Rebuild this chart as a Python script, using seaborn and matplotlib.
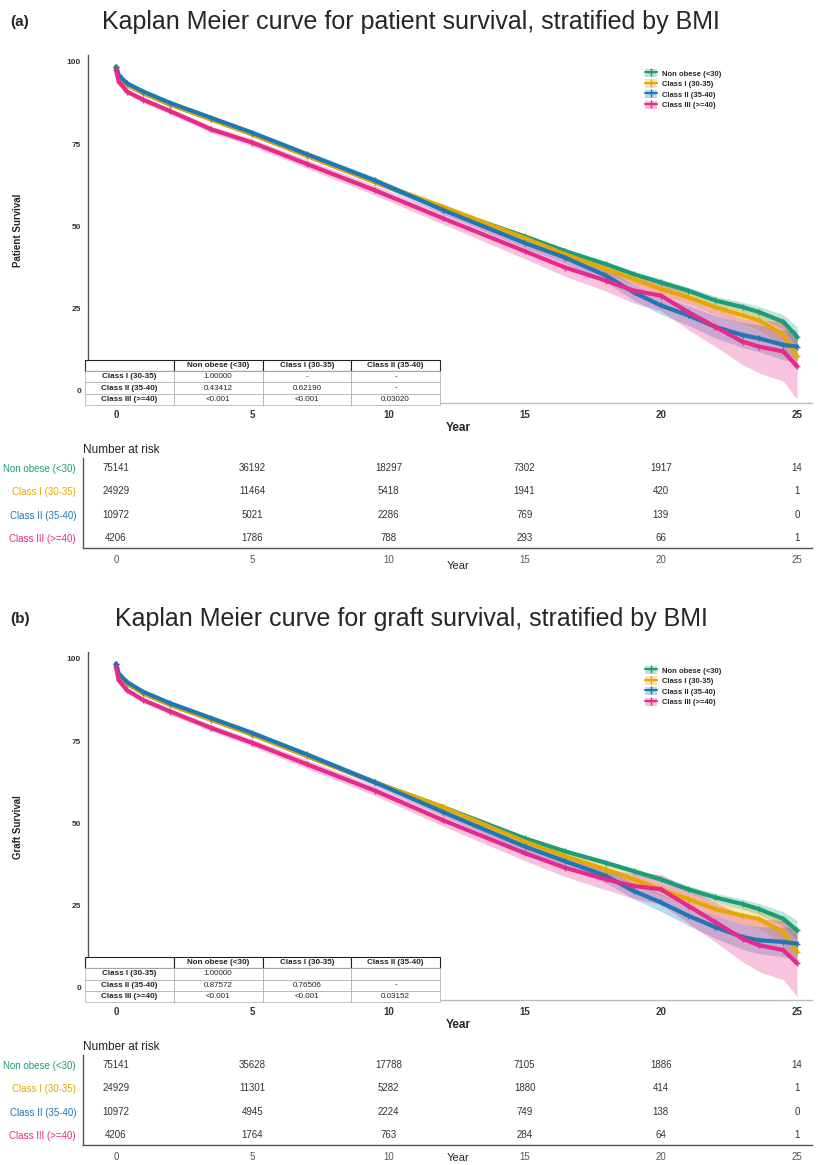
import matplotlib
matplotlib.use('Agg')
import matplotlib.pyplot as plt
import seaborn as sns
from matplotlib.lines import Line2D
from matplotlib.patches import Patch

sns.set_style('white')
plt.rcParams['font.family'] = ['Liberation Sans', 'DejaVu Sans']
narrow = ['Liberation Sans Narrow', 'Liberation Sans', 'DejaVu Sans']

W, H = 818, 1165

groups = ['Non obese (<30)', 'Class I (30-35)', 'Class II (35-40)', 'Class III (>=40)']
colors = ['#1B9E77', '#E6A800', '#1F78B4', '#E7298A']

years = [0, 0.1, 0.4, 1, 2, 3.5, 5, 7, 9.5, 12, 15, 16.5, 18, 19, 20, 21, 22, 23, 23.6, 24.5, 25]

# patient survival (%)
pat_non = [98.5, 95.5, 93, 90.5, 87, 82.5, 78, 71.5, 63.5, 55.5, 47, 42.5, 38.5, 35.5, 33, 30.5, 27.5, 25.5, 24, 21, 16.5]
pat_c1 = [98.5, 95.5, 93, 90.5, 87, 82.5, 78, 71.5, 63.5, 56, 46.5, 41.5, 37, 34, 31, 28.5, 25.5, 23, 21.5, 17, 10.5]
pat_c2 = [98.5, 96, 93.5, 91, 87.5, 83, 78.5, 72, 64, 55, 45, 40.5, 35, 30, 26, 23, 19.5, 17, 16, 14, 13.5]
pat_c3 = [97.5, 94, 91, 88.5, 85, 79.5, 75.5, 69, 61, 52.5, 42.5, 37.5, 33.5, 30.5, 29, 24, 19.5, 15, 13.5, 12, 7.5]

# graft survival (%)
gr_non = [98.5, 95, 92.5, 89.5, 86, 81.5, 77, 70.5, 62.5, 55, 45.5, 41.5, 38, 35.5, 33, 30, 27.5, 25.5, 24, 21, 17.5]
gr_c1 = [98.5, 95, 92.5, 89.5, 86, 81.5, 77, 70.5, 62.5, 55, 44.5, 40, 36, 33, 30, 27, 24, 22, 21, 17, 11]
gr_c2 = [98.5, 95.5, 93, 90, 86.5, 82, 77.5, 71, 62.5, 53.5, 43, 38.5, 34, 29.5, 26, 22, 18.5, 15.5, 14.5, 14, 13.5]
gr_c3 = [97.5, 93.5, 90.5, 87.5, 84, 79, 74.5, 68, 60, 51, 41, 36.5, 33, 31, 30, 25, 20, 15, 13, 11.5, 7.5]

# half width of confidence band
ci_non = [0.2, 0.2, 0.3, 0.3, 0.3, 0.3, 0.4, 0.4, 0.4, 0.5, 0.6, 0.7, 0.8, 0.9, 1.0, 1.1, 1.3, 1.5, 1.7, 2.2, 3]
ci_c1 = [0.3, 0.3, 0.4, 0.4, 0.4, 0.5, 0.5, 0.6, 0.7, 0.8, 1.0, 1.2, 1.4, 1.6, 1.8, 2.0, 2.3, 2.6, 2.9, 3.5, 4.5]
ci_c2 = [0.4, 0.4, 0.5, 0.5, 0.6, 0.7, 0.7, 0.8, 1.0, 1.2, 1.5, 1.8, 2.1, 2.4, 2.7, 3.0, 3.4, 3.8, 4.1, 4.5, 5]
ci_c3 = [0.6, 0.6, 0.8, 0.8, 0.9, 1.0, 1.1, 1.3, 1.5, 1.8, 2.3, 2.7, 3.2, 3.8, 4.6, 5.3, 6, 7, 8, 9, 10]

pval_cols = ['', 'Non obese (<30)', 'Class I (30-35)', 'Class II (35-40)']
pat_pvals = [['Class I (30-35)', '1.00000', '-', '-'],
             ['Class II (35-40)', '0.43412', '0.62190', '-'],
             ['Class III (>=40)', '<0.001', '<0.001', '0.03020']]
gr_pvals = [['Class I (30-35)', '1.00000', '', ''],
            ['Class II (35-40)', '0.87572', '0.76506', '-'],
            ['Class III (>=40)', '<0.001', '<0.001', '0.03152']]

risk_years = [0, 5, 10, 15, 20, 25]
pat_risk = [[75141, 36192, 18297, 7302, 1917, 14],
            [24929, 11464, 5418, 1941, 420, 1],
            [10972, 5021, 2286, 769, 139, 0],
            [4206, 1786, 788, 293, 66, 1]]
gr_risk = [[75141, 35628, 17788, 7105, 1886, 14],
           [24929, 11301, 5282, 1880, 414, 1],
           [10972, 4945, 2224, 749, 138, 0],
           [4206, 1764, 763, 284, 64, 1]]


def box(l, t, r, b):
    return [l / W, 1 - b / H, (r - l) / W, (b - t) / H]


px_year = 27.24
x0_px = 116


def draw_panel(fig, off, tag, title, ylab, curves, pvals, risk, year_y):
    ax = fig.add_axes(box(88, 55 + off, 812, 403 + off))
    for vals, ci, c in zip(curves, [ci_non, ci_c1, ci_c2, ci_c3], colors):
        lo = [v - e for v, e in zip(vals, ci)]
        hi = [v + e for v, e in zip(vals, ci)]
        ax.fill_between(years, lo, hi, color=c, alpha=0.28, lw=0)
        sns.lineplot(x=years, y=vals, ax=ax, color=c, lw=3, marker='+',
                     markersize=5, markeredgewidth=1, markeredgecolor=c,
                     sort=False, estimator=None)
    ax.set_xlim((88 - x0_px) / px_year, (812 - x0_px) / px_year)
    ax.set_ylim(-3.65, 102.1)
    ax.set_xticks(risk_years)
    ax.set_yticks([0, 25, 50, 75, 100])
    ax.tick_params(axis='x', labelsize=7, length=2, pad=3, colors='#333333')
    ax.tick_params(axis='y', labelsize=6, length=2, pad=3, colors='#333333')
    for lab in ax.get_xticklabels() + ax.get_yticklabels():
        lab.set_fontweight('bold')
    ax.set_xlabel('')
    ax.set_ylabel('')
    for s in ['top', 'right']:
        ax.spines[s].set_visible(False)
    ax.spines['left'].set_color('#555555')
    ax.spines['bottom'].set_color('#bbbbbb')
    ax.spines['left'].set_linewidth(1)
    ax.spines['bottom'].set_linewidth(1)

    handles = [(Patch(facecolor=c, alpha=0.3, lw=0),
                Line2D([], [], color=c, lw=1.5, marker='+', markersize=6))
               for c in colors]
    ax.legend(handles, groups, loc='upper left', bbox_to_anchor=(0.76, 0.98),
              frameon=False, prop={'size': 5.5, 'weight': 'bold'},
              handlelength=1.6, handleheight=1.3, labelspacing=0.25,
              handletextpad=0.6)

    fig.text(10 / W, 1 - (22 + off) / H, tag, fontsize=11, fontweight='bold',
             va='center')
    fig.text(411 / W, 1 - (22 + off) / H, title, fontsize=18, va='center',
             ha='center')
    fig.text(18 / W, 1 - (230 + off) / H, ylab, fontsize=7, fontweight='bold',
             rotation=90, va='center', ha='center')
    fig.text(458 / W, 1 - (428 + off) / H, 'Year', fontsize=8.5,
             fontweight='bold', va='center', ha='center')

    # pairwise p-value table
    tax = fig.add_axes(box(85, 360 + off, 440, 405 + off))
    tax.axis('off')
    tbl = tax.table(cellText=pvals, colLabels=pval_cols, bbox=[0, 0, 1, 1],
                    cellLoc='center')
    tbl.auto_set_font_size(False)
    tbl.set_fontsize(5.8)
    for (r, c), cell in tbl.get_celld().items():
        cell.set_linewidth(0.5)
        cell.set_edgecolor('#aaaaaa')
        cell.get_text().set_color('#222222')
        if r == 0:
            cell.set_edgecolor('#222222')
            cell.set_linewidth(0.8)
            cell.get_text().set_fontweight('bold')
        if c == 0:
            cell.get_text().set_fontweight('bold')

    # number at risk
    fig.text(83 / W, 1 - (450 + off) / H, 'Number at risk', fontsize=8.5,
             va='center', color='#222222')
    rax = fig.add_axes(box(83, 458 + off, 812, 548 + off))
    for i, row in enumerate(risk):
        for yr, n in zip(risk_years, row):
            rax.text(yr, i, str(n), ha='center', va='center', fontsize=7,
                     color='#333333', family=narrow)
    rax.set_xlim((83 - x0_px) / px_year, (812 - x0_px) / px_year)
    rax.set_ylim(3.45, -0.45)
    rax.set_yticks(range(4))
    rax.set_yticklabels(groups, family=narrow)
    rax.set_xticks(risk_years)
    rax.set_xticklabels(risk_years, family=narrow)
    rax.tick_params(axis='both', labelsize=7, length=2, pad=3, colors='#555555')
    for lab, c in zip(rax.get_yticklabels(), colors):
        lab.set_color(c)
    for s in ['top', 'right']:
        rax.spines[s].set_visible(False)
    for s in ['left', 'bottom']:
        rax.spines[s].set_color('#555555')
        rax.spines[s].set_linewidth(1)
    fig.text(458 / W, 1 - year_y / H, 'Year', fontsize=8, va='center',
             ha='center', color='#222222')


fig = plt.figure(figsize=(W / 100, H / 100), dpi=100)
draw_panel(fig, 0, '(a)', 'Kaplan Meier curve for patient survival, stratified by BMI',
           'Patient Survival', [pat_non, pat_c1, pat_c2, pat_c3], pat_pvals, pat_risk, 566)
draw_panel(fig, 597, '(b)', 'Kaplan Meier curve for graft survival, stratified by BMI',
           'Graft Survival', [gr_non, gr_c1, gr_c2, gr_c3], gr_pvals, gr_risk, 1158)
fig.savefig('out.png', dpi=100)
